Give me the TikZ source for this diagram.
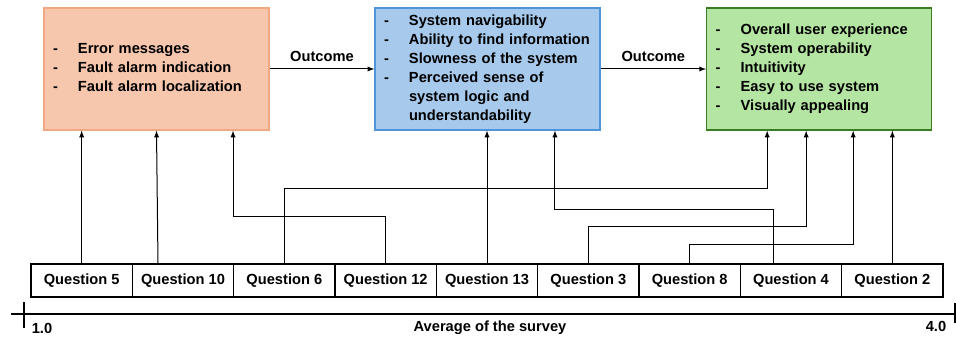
\documentclass[tikz,border=0pt]{standalone}
\usepackage{fontspec}
\setmainfont{Liberation Sans}
\usepackage{tikz}
\usetikzlibrary{positioning}
\definecolor{peach}{HTML}{F6C6AD}
\definecolor{peachline}{HTML}{F1A983}
\definecolor{sky}{HTML}{A6C9EC}
\definecolor{skyline}{HTML}{4E95D9}
\definecolor{leaf}{HTML}{B4E5A2}
\definecolor{leafline}{HTML}{3A7D22}

\begin{document}
\begin{tikzpicture}[x=0.75pt, y=-0.75pt]
	\tikzstyle{box}=[rectangle, minimum height=91.5pt, text width=155.25pt, inner xsep=6.75pt, inner ysep=0pt, align=left, line width=1pt, font=\fontsize{11}{14.25}\selectfont\bfseries]
\tikzstyle{quest}=[rectangle, draw=black, line width=0.8pt, minimum width=76pt, minimum height=24.75pt, inner sep=0pt, outer sep=0pt, font=\fontsize{11}{13}\selectfont\bfseries]
\tikzstyle{connect}=[-latex, line width=0.75pt]
\tikzstyle{lbl}=[font=\fontsize{11}{13}\selectfont\bfseries]
\useasboundingbox (0,0) rectangle (956,341);
  \node[box, fill=peach, draw=peachline] (err) at (156.5,69) {\begin{tabular}{@{}p{18.75pt}@{}l@{}}
    - & Error messages\\
    - & Fault alarm indication\\
    - & Fault alarm localization\end{tabular}};
  \node[box, fill=sky, draw=skyline] (nav) [right=78.5pt of err] {\begin{tabular}{@{}p{18.75pt}@{}l@{}}
    - & System navigability\\
    - & Ability to find information\\
    - & Slowness of the system\\
    - & Perceived sense of\\
      & system logic and\\
      & understandability\end{tabular}};
  \node[box, fill=leaf, draw=leafline] (ux) [right=79pt of nav] {\begin{tabular}{@{}p{18.75pt}@{}l@{}}
    - & Overall user experience\\
    - & System operability\\
    - & Intuitivity\\
    - & Easy to use system\\
    - & Visually appealing\end{tabular}};
  \path
        (err) edge [connect] node[lbl, above, yshift=1.5pt] {Outcome} (nav)
        (nav) edge [connect] node[lbl, above, yshift=1.5pt] {Outcome} (ux);
  % questions, ordered by their average
  \node[quest, anchor=north west] (q5) at (31,264) {Question 5};
  \node[quest] (q10) [right=0pt of q5] {Question 10};
  \node[quest] (q6) [right=0pt of q10] {Question 6};
  \node[quest] (q12) [right=0pt of q6] {Question 12};
  \node[quest] (q13) [right=0pt of q12] {Question 13};
  \node[quest] (q3) [right=0pt of q13] {Question 3};
  \node[quest] (q8) [right=0pt of q3] {Question 8};
  \node[quest] (q4) [right=0pt of q8] {Question 4};
  \node[quest] (q2) [right=0pt of q4] {Question 2};
  \draw[connect] (q5.north) -- (q5.north |- err.south);
  \draw[connect] ([xshift=-18.75pt]q10.north) -- (err.south);
  \draw[connect] (q12.north) -- ++(0,-47) -| ([xshift=57.4pt]err.south);
  \draw[connect] (q6.north) -- ++(0,-75) -| ([xshift=-39pt]ux.south);
  \draw[connect] (q13.north) -- (q13.north |- nav.south);
  \draw[connect] ([xshift=-13.1pt]q4.north) -- ++(0,-54) -| ([xshift=50.6pt]nav.south);
  \draw[connect] (q3.north) -- ++(0,-37) -| ([xshift=-9.75pt]ux.south);
  \draw[connect] (q8.north) -- ++(0,-19) -| ([xshift=25.5pt]ux.south);
  \draw[connect] (q2.north) -- (q2.north |- ux.south);
  % axis
  \coordinate (lo) at (24,314);
  \coordinate (hi) at (955,314);
  \draw[line width=1.1pt] ([xshift=-9.75pt]lo) -- (hi);
  \draw[line width=1.1pt] (lo) ++(0,-12) -- ++(0,26);
  \draw[line width=1.1pt] (hi) ++(0,-11) -- ++(0,20);
  \node[lbl] (min) at (42,328) {1.0};
  \node[lbl] (max) at (936,326) {4.0};
  \node[lbl] (avg) at (490,328) {Average of the survey};
	\end{tikzpicture}
\end{document}
